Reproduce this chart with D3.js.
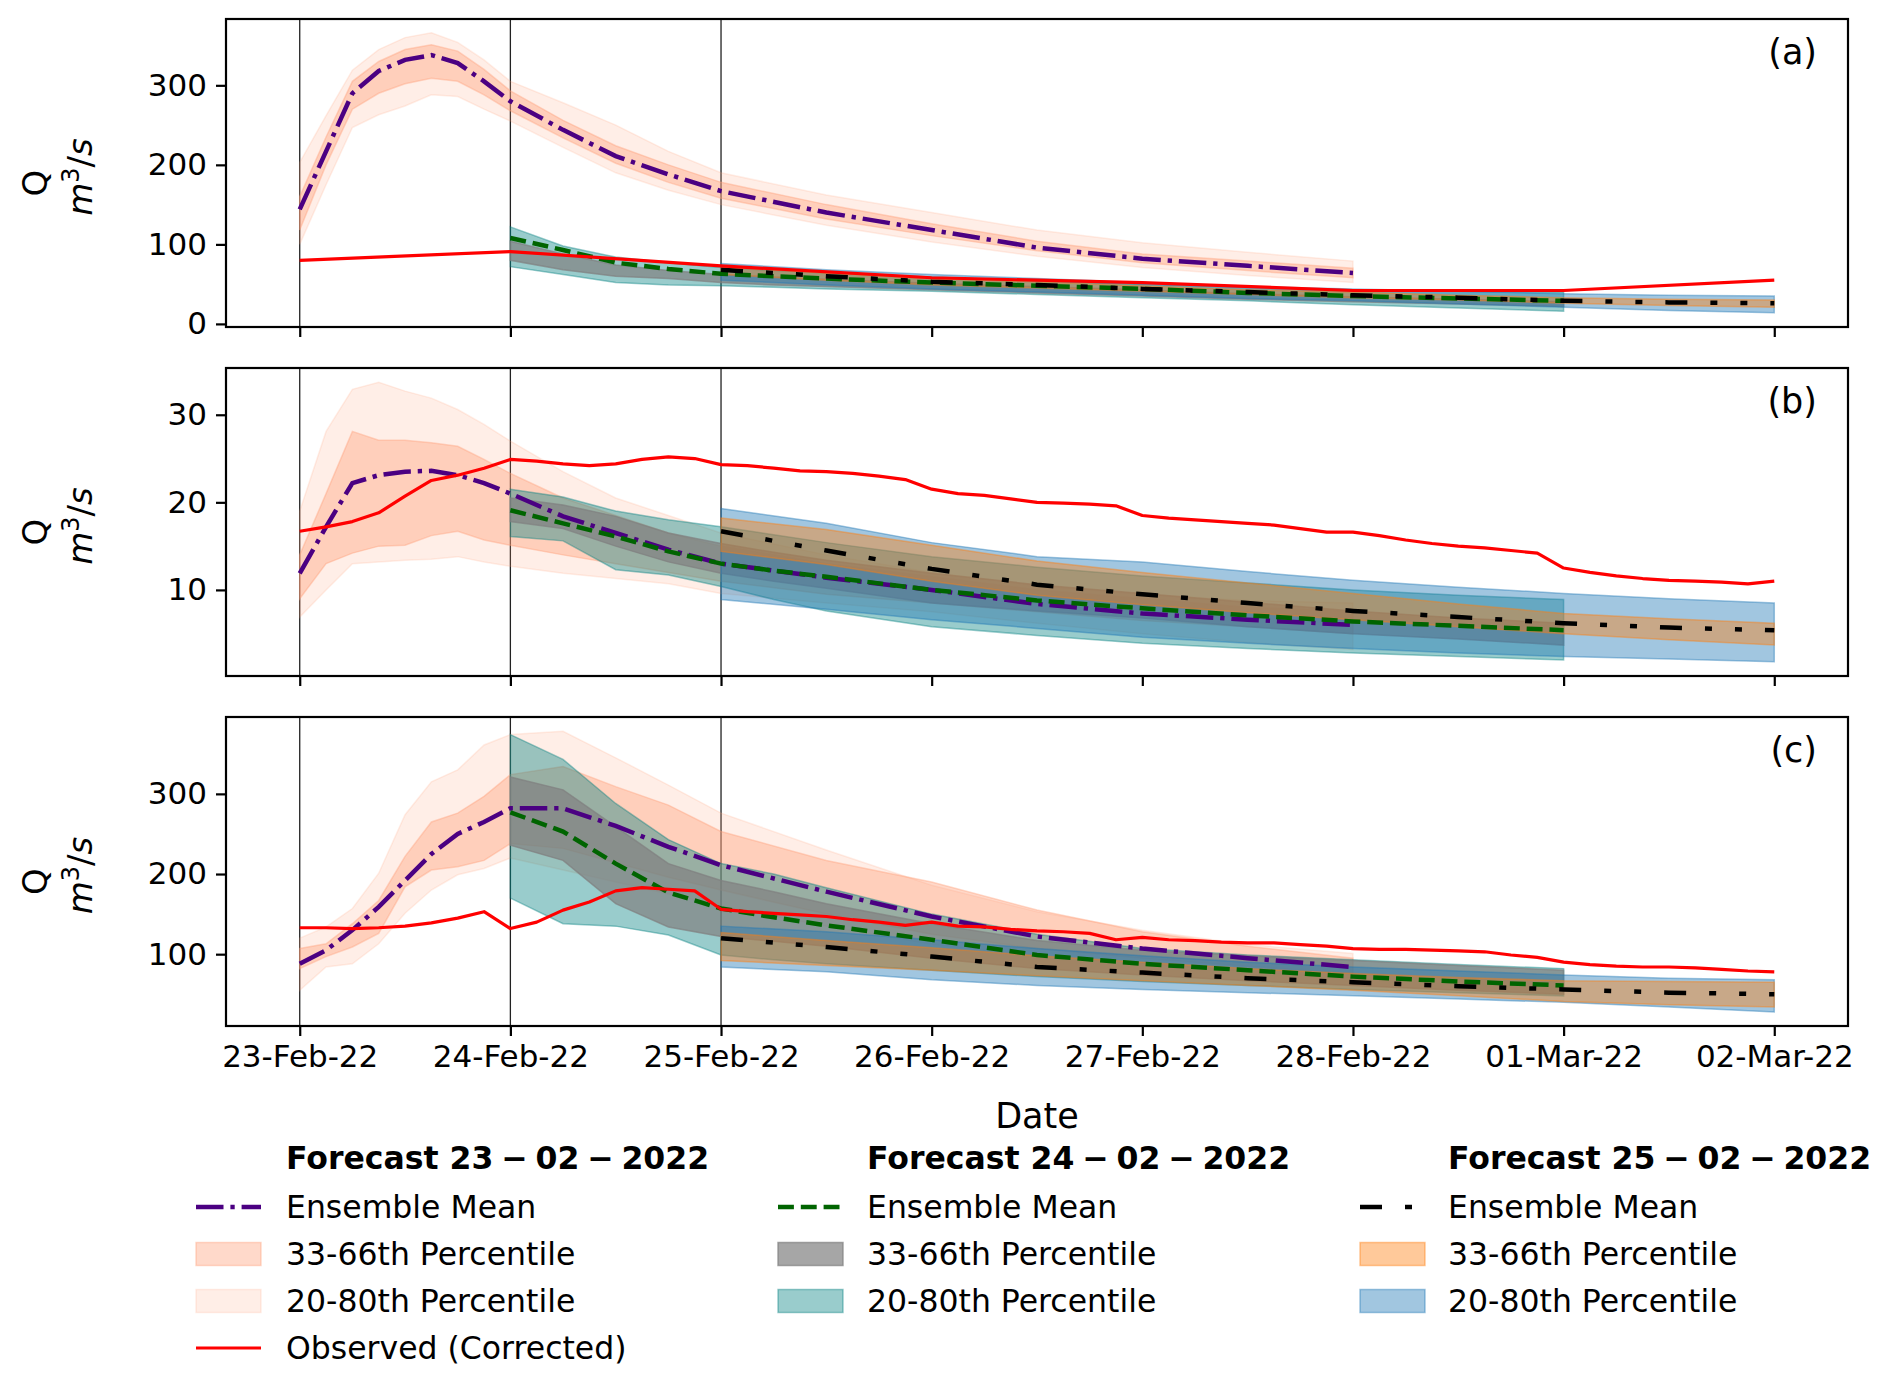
<!DOCTYPE html>
<html>
<head>
<meta charset="utf-8">
<script src="https://d3js.org/d3.v7.min.js"></script>
<style>
  body { margin: 0; background: #fff; }
  svg { display: block; font-family: "DejaVu Sans", sans-serif; }
</style>
</head>
<body>
<script>
// hours since each forecast's issue time (00:00 of its day)
var hoursF23 = [0, 3, 6, 9, 12, 15, 18, 21, 24, 30, 36, 42, 48, 60, 72, 84, 96, 108, 120];
var hoursF24 = [0, 6, 12, 18, 24, 30, 36, 48, 60, 72, 84, 96, 108, 120];
var hoursF25 = [0, 12, 24, 36, 48, 60, 72, 84, 96, 108, 120];

// observed hours since 23-Feb-22 00:00
var obsHoursA = [0, 24, 48, 72, 96, 120, 144, 168];
var obsHours3h = [0, 3, 6, 9, 12, 15, 18, 21, 24, 27, 30, 33, 36, 39, 42, 45, 48, 51, 54, 57,
  60, 63, 66, 69, 72, 75, 78, 81, 84, 87, 90, 93, 96, 99, 102, 105, 108, 111, 114, 117,
  120, 123, 126, 129, 132, 135, 138, 141, 144, 147, 150, 153, 156, 159, 162, 165, 168];

var dayTicks = ["2022-02-23", "2022-02-24", "2022-02-25", "2022-02-26", "2022-02-27", "2022-02-28", "2022-03-01", "2022-03-02"];
var issueDays = ["2022-02-23", "2022-02-24", "2022-02-25"];

// ---- panel (a) ----
var ticksA = [0, 100, 200, 300];
var a23Mean = [144, 217, 290, 318, 332, 338, 328, 305, 280, 244, 211, 188, 167, 140, 118, 96, 82, 73, 64];
var a23P33 = [118, 200, 270, 290, 302, 309, 305, 288, 268, 234, 202, 178, 158, 132, 111, 92, 77, 67, 58];
var a23P66 = [160, 235, 305, 330, 345, 351, 343, 320, 293, 256, 224, 200, 178, 150, 126, 104, 88, 79, 70];
var a23P20 = [100, 175, 247, 263, 274, 288, 286, 270, 255, 222, 190, 168, 150, 124, 103, 85, 71, 61, 52];
var a23P80 = [203, 262, 319, 345, 360, 366, 354, 332, 305, 278, 250, 217, 190, 162, 140, 118, 102, 90, 79];
var a24Mean = [108, 93, 77, 69, 63, 60, 57, 52, 48, 44, 39, 35, 32, 29];
var a24P33 = [80, 68, 60, 57, 52, 49, 47, 43, 39, 35, 31, 28, 25, 22];
var a24P66 = [104, 88, 74, 67, 62, 59, 56, 51, 47, 43, 38, 34, 31, 28];
var a24P20 = [72, 62, 52, 49, 48, 46, 44, 41, 37, 33, 29, 24, 20, 16];
var a24P80 = [122, 98, 84, 77, 71, 67, 64, 59, 54, 50, 46, 43, 41, 40];
var a25Mean = [68, 60, 53, 49, 44, 40, 36, 33, 29, 27, 26];
var a25P33 = [62, 55, 49, 45, 41, 37, 33, 30, 26, 23, 21];
var a25P66 = [72, 64, 57, 53, 48, 43, 40, 36, 33, 31, 30];
var a25P20 = [55, 49, 44, 40, 36, 32, 29, 25, 21, 17, 14];
var a25P80 = [76, 68, 62, 57, 52, 47, 44, 41, 38, 36, 35];
var obsA = [80, 91, 73, 58, 52, 42, 42, 55];

// ---- panel (b) ----
var ticksB = [10, 20, 30];
var b23Mean = [11.9, 17.2, 22.2, 23.1, 23.5, 23.6, 23.1, 22.2, 21.0, 18.4, 16.5, 14.6, 13.0, 11.4, 10.0, 8.4, 7.3, 6.6, 6.0];
var b23P33 = [9.0, 13.0, 14.2, 15.0, 15.1, 16.2, 16.7, 15.7, 15.1, 14.0, 13.0, 12.0, 11.0, 9.5, 8.5, 7.5, 6.5, 5.8, 5.0];
var b23P66 = [14.0, 21.0, 28.1, 27.1, 27.1, 26.8, 26.4, 24.9, 23.3, 20.5, 18.5, 16.5, 15.0, 13.0, 11.5, 10.0, 9.0, 8.0, 7.5];
var b23P20 = [6.9, 10.0, 13.0, 13.2, 13.4, 13.5, 13.8, 13.2, 12.7, 11.9, 11.3, 10.7, 9.6, 8.5, 7.5, 6.2, 5.0, 4.0, 3.2];
var b23P80 = [19.0, 28.1, 32.9, 33.7, 32.7, 31.9, 30.6, 28.9, 27.0, 23.5, 20.5, 18.5, 16.5, 14.0, 12.0, 10.5, 9.5, 8.8, 8.5];
var b24Mean = [19.1, 17.6, 16.1, 14.4, 13.0, 12.2, 11.5, 10.0, 8.8, 7.9, 7.1, 6.4, 5.9, 5.4];
var b24P33 = [17.8, 17.0, 15.0, 13.2, 11.9, 11.0, 10.2, 8.5, 7.6, 6.8, 5.8, 5.0, 4.4, 3.7];
var b24P66 = [20.5, 19.7, 18.4, 16.5, 15.3, 14.3, 13.4, 11.9, 10.6, 9.6, 8.6, 7.6, 6.8, 6.2];
var b24P20 = [16.1, 15.6, 12.3, 11.7, 10.4, 8.9, 7.6, 5.8, 4.8, 3.9, 3.3, 2.8, 2.4, 2.0];
var b24P80 = [21.5, 20.6, 19.0, 18.0, 17.2, 16.3, 15.4, 13.8, 12.6, 11.6, 10.8, 10.0, 9.4, 8.9];
var b25Mean = [16.7, 14.5, 12.4, 10.6, 9.5, 8.5, 7.6, 6.9, 6.2, 5.7, 5.4];
var b25P33 = [14.4, 12.9, 11.0, 9.4, 8.3, 7.4, 6.6, 5.8, 5.0, 4.3, 3.7];
var b25P66 = [18.2, 16.9, 15.1, 13.3, 12.0, 10.8, 9.6, 8.4, 7.3, 6.7, 6.2];
var b25P20 = [8.9, 7.8, 6.6, 5.6, 4.6, 3.9, 3.3, 2.8, 2.4, 2.1, 1.8];
var b25P80 = [19.3, 17.6, 15.4, 13.8, 13.2, 12.1, 11.1, 10.3, 9.6, 9.0, 8.5];
var obsB = [16.7, 17.2, 17.8, 18.8, 20.7, 22.5, 23.1, 23.9, 24.9, 24.7, 24.4, 24.2, 24.4, 24.9, 25.2, 25.0,
  24.3, 24.2, 23.9, 23.6, 23.5, 23.3, 23.0, 22.6, 21.5, 21.0, 20.8, 20.4, 20.0, 19.9, 19.8, 19.6,
  18.5, 18.2, 18.0, 17.8, 17.6, 17.4, 17.0, 16.6, 16.6, 16.2, 15.7, 15.3, 15.0, 14.8, 14.5, 14.2,
  12.5, 12.0, 11.6, 11.3, 11.1, 11.0, 10.9, 10.7, 11.0];

// ---- panel (c) ----
var ticksC = [100, 200, 300];
var c23Mean = [88, 105, 130, 159, 192, 225, 250, 265, 282, 282, 260, 234, 211, 178, 147, 122, 107, 95, 84];
var c23P33 = [82, 97, 109, 126, 184, 205, 209, 217, 238, 232, 214, 196, 180, 150, 125, 107, 95, 85, 76];
var c23P66 = [107, 113, 138, 167, 222, 265, 276, 297, 324, 334, 309, 286, 253, 217, 190, 155, 128, 110, 95];
var c23P20 = [55, 84, 88, 113, 151, 180, 199, 207, 220, 205, 190, 175, 160, 135, 112, 98, 88, 78, 70];
var c23P80 = [120, 134, 157, 201, 274, 315, 330, 361, 374, 378, 345, 311, 276, 230, 186, 153, 130, 112, 101];
var c24Mean = [277, 253, 213, 177, 157, 146, 136, 118, 99, 88, 80, 72, 66, 61];
var c24P33 = [236, 217, 163, 134, 122, 116, 110, 95, 82, 74, 67, 61, 55, 50];
var c24P66 = [321, 305, 259, 213, 192, 178, 163, 138, 117, 105, 98, 92, 86, 80];
var c24P20 = [170, 138, 135, 124, 99, 93, 88, 80, 72, 66, 61, 56, 52, 48];
var c24P80 = [374, 343, 288, 243, 213, 200, 183, 150, 125, 107, 99, 93, 87, 82];
var c25Mean = [120, 109, 97, 84, 77, 70, 65, 60, 56, 52, 50];
var c25P33 = [92, 86, 80, 73, 67, 61, 55, 48, 41, 37, 34];
var c25P66 = [127, 117, 108, 98, 90, 82, 76, 71, 67, 66, 65];
var c25P20 = [84, 78, 68, 61, 56, 52, 48, 44, 40, 34, 28];
var c25P80 = [135, 128, 118, 107, 98, 90, 84, 79, 74, 70, 68];
var obsC = [133, 133, 132, 133, 135, 139, 145, 153, 132, 140, 155, 165, 179, 183, 181, 179,
  156, 153, 151, 149, 147, 143, 140, 136, 140, 135, 134, 131, 129, 128, 126, 118,
  121, 118, 117, 115, 114, 114, 112, 110, 107, 106, 106, 105, 104, 103, 99, 96,
  90, 87, 85, 84, 84, 83, 81, 79, 78];

var legendTitles = ["Forecast 23\u2005\u2212\u200502\u2005\u2212\u20052022",
                    "Forecast 24\u2005\u2212\u200502\u2005\u2212\u20052022",
                    "Forecast 25\u2005\u2212\u200502\u2005\u2212\u20052022"];

// ---- styles ----
var forecastStyle = [
  { start: 0,  hours: hoursF23, outer: ["#ffa07a", 0.18], inner: ["#ffa07a", 0.40], line: "#4b0082", dash: "27.5,6.9,4.3,6.9" },
  { start: 24, hours: hoursF24, outer: ["#008080", 0.40], inner: ["#808080", 0.70], line: "#006400", dash: "15.9,6.9" },
  { start: 48, hours: hoursF25, outer: ["#1f77b4", 0.42], inner: ["#ff7f0e", 0.42], line: "#000000", dash: "22,23,7,23,7,23" }
];

var panels = [
  { label: "(a)", top: 19, bottom: 327, domain: [-3.9, 383.4], ticks: ticksA, obsHours: obsHoursA, obs: obsA,
    f: [[a23Mean, a23P33, a23P66, a23P20, a23P80], [a24Mean, a24P33, a24P66, a24P20, a24P80], [a25Mean, a25P33, a25P66, a25P20, a25P80]] },
  { label: "(b)", top: 368, bottom: 676, domain: [0.17, 35.34], ticks: ticksB, obsHours: obsHours3h, obs: obsB,
    f: [[b23Mean, b23P33, b23P66, b23P20, b23P80], [b24Mean, b24P33, b24P66, b24P20, b24P80], [b25Mean, b25P33, b25P66, b25P20, b25P80]] },
  { label: "(c)", top: 717, bottom: 1026, domain: [10.4, 395.9], ticks: ticksC, obsHours: obsHours3h, obs: obsC,
    f: [[c23Mean, c23P33, c23P66, c23P20, c23P80], [c24Mean, c24P33, c24P66, c24P20, c24P80], [c25Mean, c25P33, c25P66, c25P20, c25P80]] }
];

var W = 1892, H = 1383;
var left = 226, right = 1848;
var fontTick = 31;

var svg = d3.select("body").append("svg").attr("width", W).attr("height", H);
svg.append("rect").attr("width", W).attr("height", H).attr("fill", "#fff");

var t0 = Date.UTC(2022, 1, 23);
function hDate(h) { return new Date(t0 + h * 3600e3); }
var parseDay = d3.utcParse("%Y-%m-%d");

var x = d3.scaleUtc().domain([hDate(-8.4), hDate(176.4)]).range([left, right]);
var fmt = d3.utcFormat("%d-%b-%y");

panels.forEach(function(p, pi) {
  var y = d3.scaleLinear().domain(p.domain).range([p.bottom, p.top]);
  var g = svg.append("g");

  // vertical lines at forecast issue times
  issueDays.forEach(function(d) {
    g.append("line")
      .attr("x1", x(parseDay(d))).attr("x2", x(parseDay(d)))
      .attr("y1", p.top).attr("y2", p.bottom)
      .attr("stroke", "#222").attr("stroke-width", 1.3);
  });

  // bands
  forecastStyle.forEach(function(s, fi) {
    var series = p.f[fi];
    var pts = s.hours.map(function(h, i) {
      return { t: hDate(s.start + h), m: series[0][i], p33: series[1][i], p66: series[2][i], p20: series[3][i], p80: series[4][i] };
    });
    var outer = d3.area().x(function(d) { return x(d.t); }).y0(function(d) { return y(d.p20); }).y1(function(d) { return y(d.p80); });
    var inner = d3.area().x(function(d) { return x(d.t); }).y0(function(d) { return y(d.p33); }).y1(function(d) { return y(d.p66); });
    g.append("path").datum(pts).attr("d", outer)
      .attr("fill", s.outer[0]).attr("fill-opacity", s.outer[1])
      .attr("stroke", s.outer[0]).attr("stroke-opacity", s.outer[1]).attr("stroke-width", 1.5);
    g.append("path").datum(pts).attr("d", inner)
      .attr("fill", s.inner[0]).attr("fill-opacity", s.inner[1])
      .attr("stroke", s.inner[0]).attr("stroke-opacity", s.inner[1]).attr("stroke-width", 1.5);
    s._pts = pts;
  });

  // ensemble means
  forecastStyle.forEach(function(s) {
    var line = d3.line().x(function(d) { return x(d.t); }).y(function(d) { return y(d.m); });
    g.append("path").datum(s._pts).attr("d", line)
      .attr("fill", "none").attr("stroke", s.line).attr("stroke-width", 4.5)
      .attr("stroke-dasharray", s.dash);
  });

  // observed
  var obsPts = p.obsHours.map(function(h, i) { return { t: hDate(h), v: p.obs[i] }; });
  g.append("path").datum(obsPts)
    .attr("d", d3.line().x(function(d) { return x(d.t); }).y(function(d) { return y(d.v); }))
    .attr("fill", "none").attr("stroke", "#ff0000").attr("stroke-width", 3.2)
    .attr("stroke-linejoin", "round");

  // axes
  var xa = d3.axisBottom(x).tickValues(dayTicks.map(parseDay)).tickSize(10).tickPadding(9)
    .tickFormat(pi === 2 ? fmt : function() { return ""; });
  var gx = g.append("g").attr("transform", "translate(0," + p.bottom + ")").call(xa);
  var ya = d3.axisLeft(y).tickValues(p.ticks).tickSize(10).tickPadding(9).tickFormat(d3.format("d"));
  var gy = g.append("g").attr("transform", "translate(" + left + ",0)").call(ya);
  [gx, gy].forEach(function(a) {
    a.select(".domain").remove();
    a.selectAll(".tick line").attr("stroke", "#000").attr("stroke-width", 2.2);
    a.selectAll(".tick text").attr("fill", "#000").style("font-size", fontTick + "px")
      .style("font-family", "'DejaVu Sans', sans-serif");
  });

  // frame
  g.append("rect").attr("x", left).attr("y", p.top)
    .attr("width", right - left).attr("height", p.bottom - p.top)
    .attr("fill", "none").attr("stroke", "#000").attr("stroke-width", 2.2);

  // panel label
  g.append("text").attr("x", 1817).attr("y", p.top + 45)
    .attr("text-anchor", "end").style("font-size", "35px").text(p.label);

  // y label
  var cy = (p.top + p.bottom) / 2;
  g.append("text").attr("transform", "translate(47," + (cy + 10) + ") rotate(-90)")
    .attr("text-anchor", "middle").style("font-size", "34px").text("Q");
  var yl = g.append("text").attr("transform", "translate(92," + (cy + 4) + ") rotate(-90)")
    .attr("text-anchor", "middle").style("font-size", "34px");
  yl.append("tspan").style("font-style", "italic").text("m");
  yl.append("tspan").attr("dy", -13).style("font-size", "24px").text("3");
  yl.append("tspan").attr("dy", 13).text("/");
  yl.append("tspan").style("font-style", "italic").text("s");
});

// x label
svg.append("text").attr("x", (left + right) / 2).attr("y", 1128)
  .attr("text-anchor", "middle").style("font-size", "35px").text("Date");

// legend
var colHandle = [196, 778, 1360];
var colText = [286, 867, 1448];
var rowY = [1158, 1207, 1254, 1301, 1348];
var leg = svg.append("g").style("font-size", "31.5px");

forecastStyle.forEach(function(s, ci) {
  var hx = colHandle[ci], tx = colText[ci];
  leg.append("text").attr("x", tx).attr("y", rowY[0] + 11).style("font-weight", "bold").text(legendTitles[ci]);

  leg.append("line").attr("x1", hx).attr("x2", hx + 65).attr("y1", rowY[1]).attr("y2", rowY[1])
    .attr("stroke", s.line).attr("stroke-width", 4.5).attr("stroke-dasharray", s.dash);
  leg.append("text").attr("x", tx).attr("y", rowY[1] + 11).text("Ensemble Mean");

  [[s.inner, "33-66th Percentile", rowY[2]], [s.outer, "20-80th Percentile", rowY[3]]].forEach(function(e) {
    leg.append("rect").attr("x", hx).attr("y", e[2] - 11.5).attr("width", 65).attr("height", 23)
      .attr("fill", e[0][0]).attr("fill-opacity", e[0][1])
      .attr("stroke", e[0][0]).attr("stroke-opacity", e[0][1]).attr("stroke-width", 1.5);
    leg.append("text").attr("x", tx).attr("y", e[2] + 11).text(e[1]);
  });
});

leg.append("line").attr("x1", colHandle[0]).attr("x2", colHandle[0] + 65)
  .attr("y1", rowY[4]).attr("y2", rowY[4]).attr("stroke", "#ff0000").attr("stroke-width", 3.2);
leg.append("text").attr("x", colText[0]).attr("y", rowY[4] + 11).text("Observed (Corrected)");
</script>
</body>
</html>
